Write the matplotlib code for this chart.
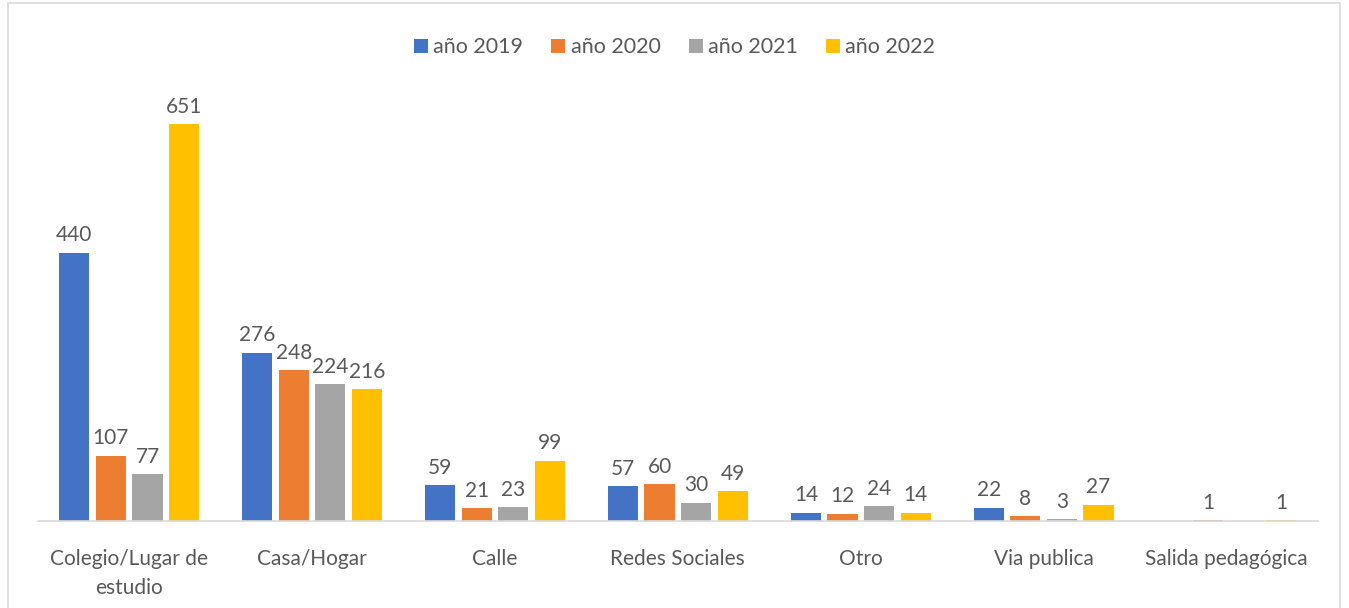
import numpy as np
import matplotlib.pyplot as plt
from matplotlib.patches import Rectangle

plt.rcParams['font.family'] = ['Lato', 'DejaVu Sans']

# Data
categories = ["Colegio/Lugar de\nestudio", "Casa/Hogar", "Calle", "Redes Sociales",
              "Otro", "Via publica", "Salida pedagógica"]
series_names = ["año 2019", "año 2020", "año 2021", "año 2022"]
v2019 = [440, 276, 59, 57, 14, 22, None]
v2020 = [107, 248, 21, 60, 12, 8, 1]
v2021 = [77, 224, 23, 30, 24, 3, None]
v2022 = [651, 216, 99, 49, 14, 27, 1]
colors = ["#4472C4", "#ED7D31", "#A5A5A5", "#FFC000"]

text_color = "#595959"

fig = plt.figure(figsize=(13.49, 6.08), dpi=100)
ax = fig.add_axes([0.028, 0.143, 0.949, 0.702])

# light frame around chart area
fig.patches.append(Rectangle((0.006, -0.01), 0.987, 1.005, transform=fig.transFigure,
                             fill=False, edgecolor="#D9D9D9", linewidth=1.2))

x = np.arange(len(categories))
width = 0.165
offsets = [-0.3, -0.1, 0.1, 0.3]

for vals, name, col, off in zip([v2019, v2020, v2021, v2022], series_names, colors, offsets):
    h = [v if v is not None else 0 for v in vals]
    bars = ax.bar(x + off, h, width, color=col, label=name)
    for b, v in zip(bars, vals):
        if v is None:
            continue
        ax.text(b.get_x() + b.get_width() / 2, b.get_height() + 12, str(v),
                ha="center", va="bottom", fontsize=15, color=text_color)

ax.set_xlim(-0.5, len(categories) - 0.5)
ax.set_ylim(0, 700)
ax.set_yticks([])
ax.set_xticks(x)
ax.set_xticklabels(categories, fontsize=15, color=text_color, linespacing=1.55)
ax.tick_params(axis="x", length=0, pad=20)
for s in ["top", "right", "left"]:
    ax.spines[s].set_visible(False)
ax.spines["bottom"].set_color("#D9D9D9")
ax.spines["bottom"].set_linewidth(1.2)

fig.legend(loc="center", bbox_to_anchor=(0.5, 0.922), ncol=4, frameon=False,
           fontsize=15.5, labelcolor=text_color, handlelength=0.65, handleheight=0.65,
           handletextpad=0.25, columnspacing=1.3)

fig.savefig("out.png", dpi=100)
